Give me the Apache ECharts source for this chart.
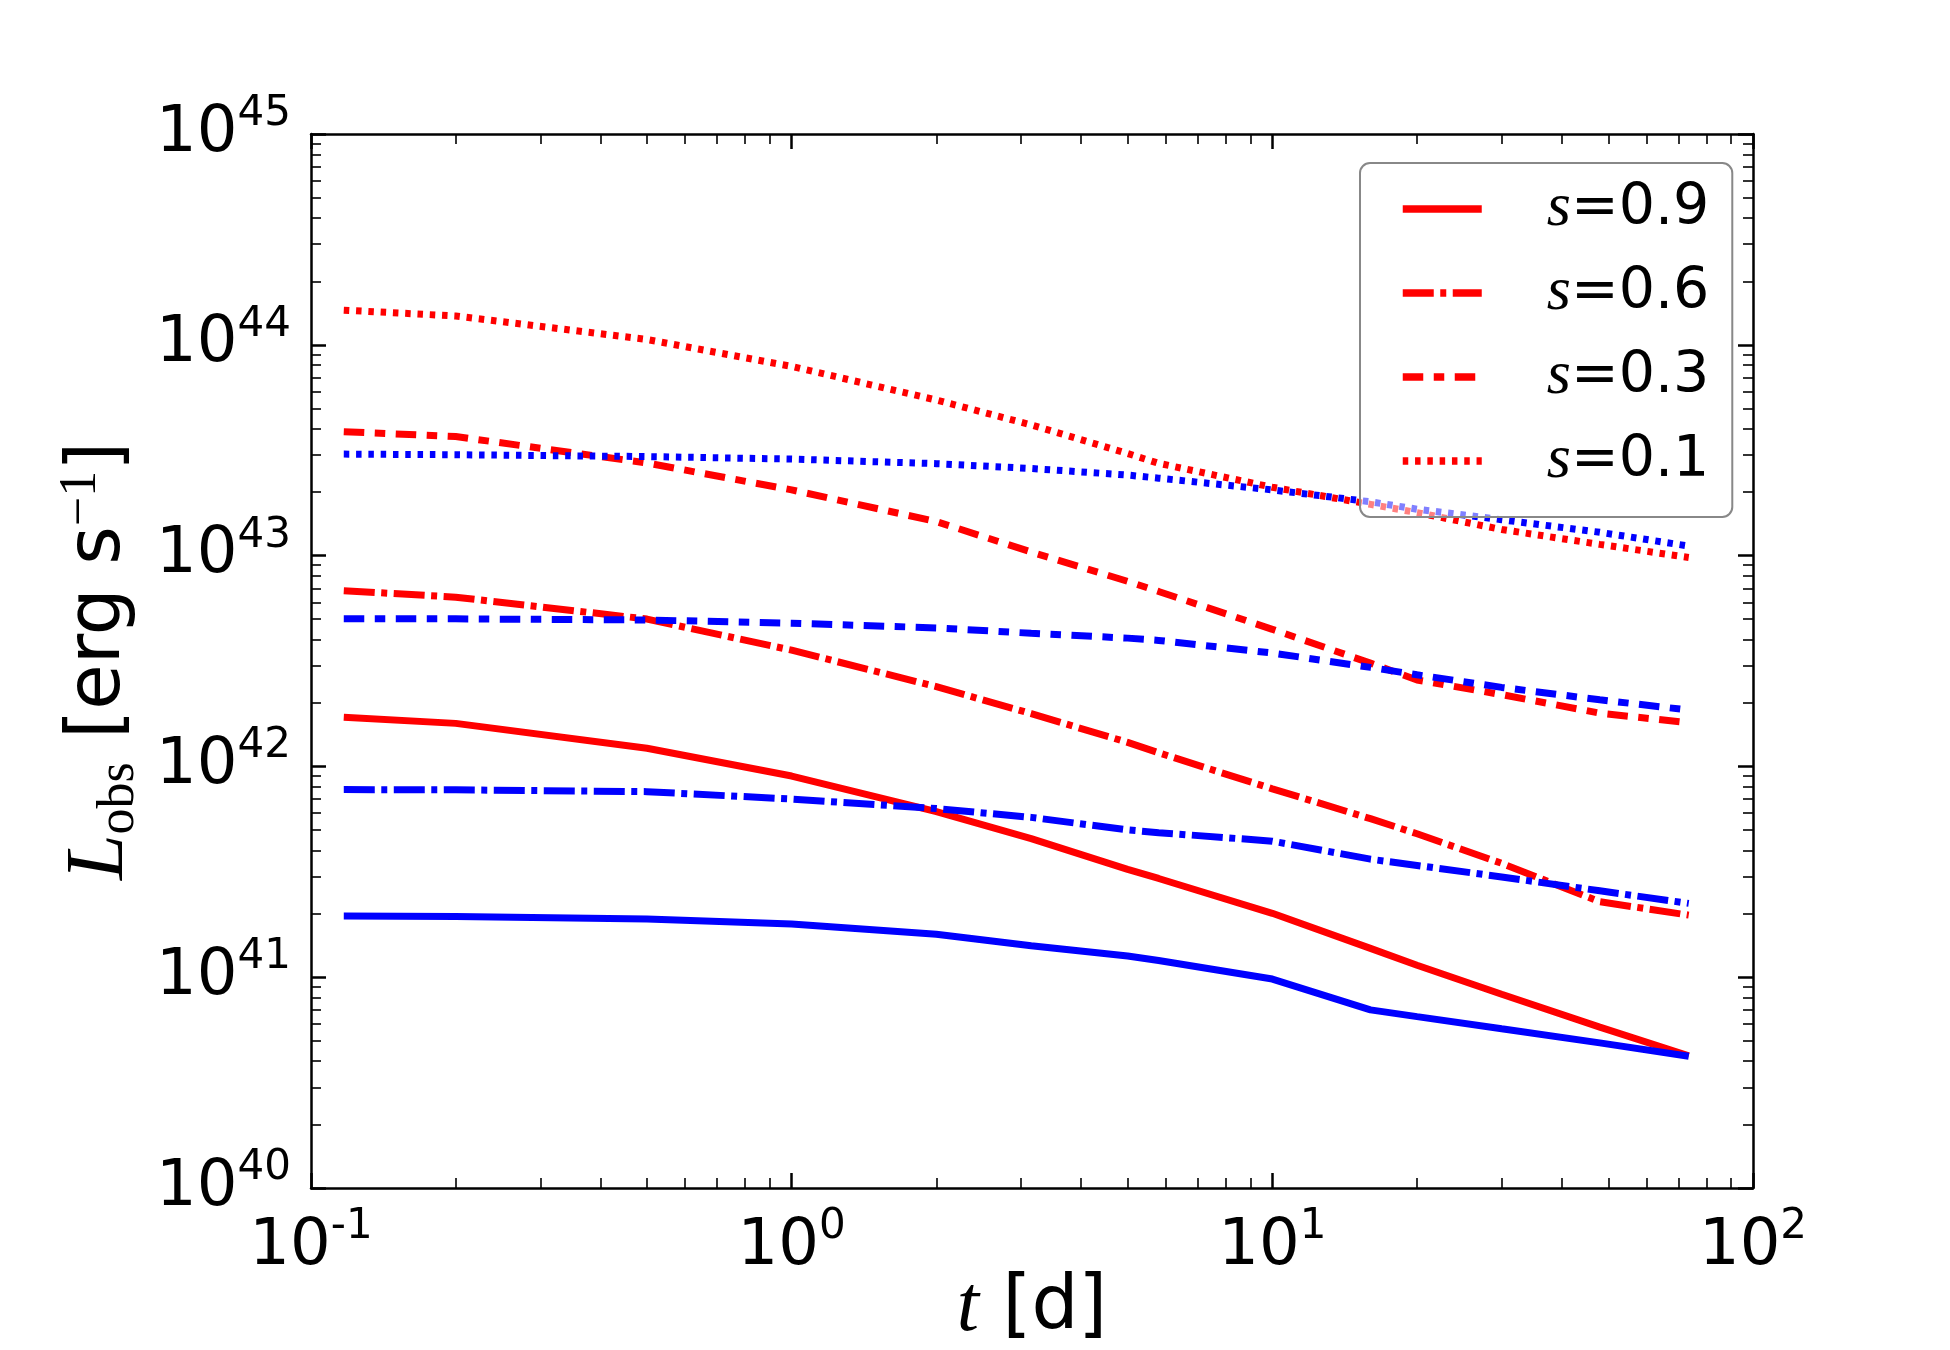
<!DOCTYPE html>
<html>
<head>
<meta charset="utf-8">
<script src="https://cdn.jsdelivr.net/npm/echarts@6/dist/echarts.min.js"></script>
<style>
html, body { margin: 0; padding: 0; background: #fff; }
#chart { width: 1950px; height: 1350px; }
</style>
</head>
<body>
<div id="chart"></div>
<script>
// time in days
var days = [0.117, 0.2, 0.5, 1, 2, 3.15, 5, 5.8, 10, 16, 20, 30, 48, 73.5];

// L_obs [erg/s], red curves
var redS09 = [1.71e42, 1.60e42, 1.22e42, 9.0e41, 6.1e41, 4.54e41, 3.25e41, 2.94e41, 2.01e41, 1.37e41, 1.14e41, 8.3e40, 5.8e40, 4.24e40];
var redS06 = [6.82e42, 6.35e42, 5.0e42, 3.56e42, 2.39e42, 1.78e42, 1.30e42, 1.16e42, 7.83e41, 5.65e41, 4.79e41, 3.47e41, 2.28e41, 1.97e41];
var redS03 = [3.87e43, 3.67e43, 2.75e43, 2.05e43, 1.45e43, 1.04e43, 7.55e42, 6.76e42, 4.47e42, 3.09e42, 2.57e42, 2.19e42, 1.79e42, 1.61e42];
var redS01 = [1.46e44, 1.37e44, 1.06e44, 7.9e43, 5.47e43, 4.17e43, 3.05e43, 2.74e43, 2.11e43, 1.75e43, 1.6e43, 1.33e43, 1.13e43, 9.8e42];

// blue curves
var blueS09 = [1.95e41, 1.94e41, 1.89e41, 1.79e41, 1.60e41, 1.41e41, 1.26e41, 1.20e41, 9.8e40, 7.0e40, 6.5e40, 5.69e40, 4.88e40, 4.22e40];
var blueS06 = [7.76e41, 7.74e41, 7.59e41, 7.0e41, 6.31e41, 5.73e41, 5.0e41, 4.85e41, 4.42e41, 3.63e41, 3.39e41, 2.99e41, 2.57e41, 2.24e41];
var blueS03 = [5.02e42, 5.01e42, 4.95e42, 4.78e42, 4.54e42, 4.28e42, 4.06e42, 3.96e42, 3.45e42, 2.95e42, 2.72e42, 2.37e42, 2.07e42, 1.85e42];
var blueS01 = [3.03e43, 3.01e43, 2.95e43, 2.87e43, 2.73e43, 2.59e43, 2.41e43, 2.33e43, 2.05e43, 1.80e43, 1.66e43, 1.48e43, 1.29e43, 1.11e43];

var legendNames = ['s=0.9', 's=0.6', 's=0.3', 's=0.1'];

var xMajorTicks = [0.1, 1, 10, 99.99999];
var xMinorTicks = [0.2, 0.3, 0.4, 0.5, 0.6, 0.7, 0.8, 0.9, 2, 3, 4, 5, 6, 7, 8, 9, 20, 30, 40, 50, 60, 70, 80, 90];
var yMajorTicks = [1.0000001e40, 1e41, 1e42, 1e43, 1e44, 0.9999999e45];
var yMinorTicks = [];
for (var k = 40; k < 45; k++) {
	for (var m = 2; m <= 9; m++) yMinorTicks.push(m * Math.pow(10, k));
}

var dashS06 = [31, 6.5, 6, 6.5];
var dashS03 = [20.5, 10.5, 10.5, 10.5];
var dashS01 = [5.5, 6.8];
var lineDashes = ['solid', dashS06, dashS03, dashS01];

function pairs(vals) {
	return days.map(function (d, i) { return [d, vals[i]]; });
}

function curve(name, color, vals, dash) {
	return {
		name: name,
		type: 'line',
		data: pairs(vals),
		symbol: 'none',
		showSymbol: false,
		silent: true,
		animation: false,
		xAxisIndex: 0,
		yAxisIndex: 0,
		itemStyle: { color: color },
		lineStyle: { color: color, width: 7, type: dash, cap: 'butt' }
	};
}

function powLabel(v) {
	var e = Math.round(Math.log10(v));
	return '{b|10}{p|' + e + '}';
}

var labelRich = {
	b: { fontSize: 64, fontFamily: 'DejaVu Sans', color: '#000', lineHeight: 82 },
	p: { fontSize: 42, fontFamily: 'DejaVu Sans', color: '#000', lineHeight: 17, verticalAlign: 'top' }
};

var frame = { show: true, onZero: false, lineStyle: { color: '#000', width: 2.5 } };

function logAxis(kind, pos, ticks, len, withLine, withLabel) {
	var isX = kind === 'x';
	var ax = {
		type: 'log',
		logBase: 10,
		min: isX ? 0.1 : 1e40,
		max: isX ? 100 : 1e45,
		position: pos,
		gridIndex: 0,
		axisLine: withLine ? frame : { show: false, onZero: false },
		axisTick: {
			show: true, inside: true, length: len, customValues: ticks,
			lineStyle: { color: '#000', width: len > 12 ? 2.5 : 1.6 }
		},
		minorTick: { show: false },
		splitLine: { show: false },
		axisLabel: { show: false }
	};
	if (withLabel) {
		ax.axisLabel = {
			show: true,
			customValues: ticks,
			formatter: powLabel,
			rich: labelRich,
			margin: isX ? 18 : 20,
			color: '#000'
		};
	}
	return ax;
}

var xMain = logAxis('x', 'bottom', xMajorTicks, 15, true, true);
xMain.name = '{t|t} [d]';
xMain.nameLocation = 'middle';
xMain.nameGap = 76;
xMain.nameMoveOverlap = false;
xMain.nameTextStyle = {
	fontSize: 74, fontFamily: 'DejaVu Sans', color: '#000', lineHeight: 90,
	rich: {
		t: { fontSize: 80, fontFamily: 'Liberation Serif', fontStyle: 'italic', color: '#000', lineHeight: 90 }
	}
};

var yMain = logAxis('y', 'left', yMajorTicks, 15, true, true);
yMain.name = '{L|L}{o|obs} [erg s{m|\u22121}]';
yMain.nameLocation = 'middle';
yMain.nameRotate = 90;
yMain.nameGap = 163;
yMain.nameTextStyle = {
	fontSize: 74, fontFamily: 'DejaVu Sans', color: '#000', lineHeight: 90,
	rich: {
		L: { fontSize: 82, fontFamily: 'Liberation Serif', fontStyle: 'italic', color: '#000', lineHeight: 90 },
		o: { fontSize: 52, fontFamily: 'Liberation Serif', color: '#000', lineHeight: 40, verticalAlign: 'bottom' },
		m: { fontSize: 52, fontFamily: 'Liberation Serif', color: '#000', lineHeight: 22, verticalAlign: 'top' }
	}
};

var chart = echarts.init(document.getElementById('chart'), null, { renderer: 'canvas' });

chart.setOption({
	backgroundColor: '#fff',
	animation: false,
	textStyle: { fontFamily: 'DejaVu Sans' },
	grid: { left: 311, right: 197, top: 134, bottom: 162, containLabel: false, outerBoundsMode: 'none' },
	xAxis: [
		xMain,
		logAxis('x', 'bottom', xMinorTicks, 10, false, false),
		logAxis('x', 'top', xMajorTicks, 15, true, false),
		logAxis('x', 'top', xMinorTicks, 10, false, false)
	],
	yAxis: [
		yMain,
		logAxis('y', 'left', yMinorTicks, 10, false, false),
		logAxis('y', 'right', yMajorTicks, 15, true, false),
		logAxis('y', 'right', yMinorTicks, 10, false, false)
	],
	legend: {
		show: true,
		orient: 'vertical',
		left: 1360,
		top: 163,
		padding: [15, 23, 25, 39],
		itemWidth: 79,
		itemHeight: 14,
		itemGap: 22,
		selectedMode: false,
		backgroundColor: 'rgba(255,255,255,0.5)',
		borderColor: '#888',
		borderWidth: 2,
		borderRadius: 10,
		itemStyle: { opacity: 0 },
		data: legendNames.map(function (n, i) {
			return {
				name: n,
				itemStyle: { opacity: 0 },
				lineStyle: { color: '#ff0000', width: 7.5, type: lineDashes[i], cap: 'butt' }
			};
		}),
		formatter: function (name) {
			return '{i|s}{r|' + name.slice(1) + '}';
		},
		textStyle: {
			color: '#000',
			fontSize: 57,
			lineHeight: 60,
			rich: {
				i: { fontSize: 62, fontFamily: 'Liberation Serif', fontStyle: 'italic', color: '#000', lineHeight: 60, padding: [0, 0, 0, 60] },
				r: { fontSize: 57, fontFamily: 'DejaVu Sans', color: '#000', lineHeight: 60 }
			}
		}
	},
	series: [
		curve('s=0.9', '#ff0000', redS09, 'solid'),
		curve('s=0.6', '#ff0000', redS06, dashS06),
		curve('s=0.3', '#ff0000', redS03, dashS03),
		curve('s=0.1', '#ff0000', redS01, dashS01),
		curve('blue 0.9', '#0000ff', blueS09, 'solid'),
		curve('blue 0.6', '#0000ff', blueS06, dashS06),
		curve('blue 0.3', '#0000ff', blueS03, dashS03),
		curve('blue 0.1', '#0000ff', blueS01, dashS01)
	]
});
</script>
</body>
</html>
